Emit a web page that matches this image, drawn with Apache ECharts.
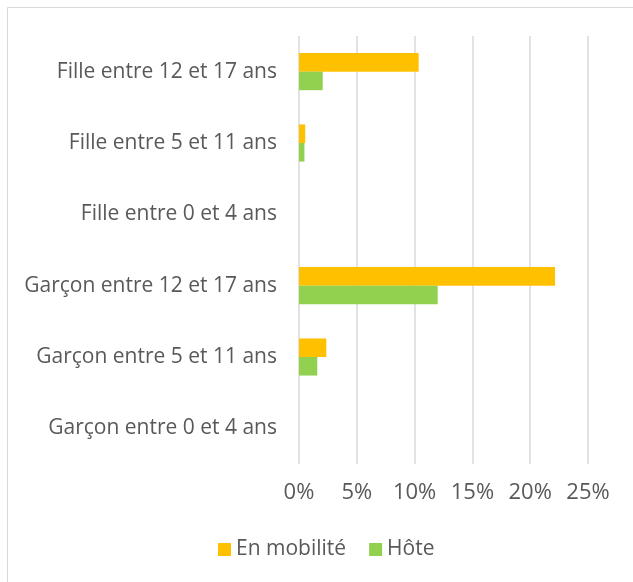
<!DOCTYPE html>
<html>
<head>
<meta charset="utf-8">
<script src="https://cdn.jsdelivr.net/npm/echarts@6/dist/echarts.min.js"></script>
<style>
  html, body { margin: 0; padding: 0; background: #fff; }
  #chart { width: 633px; height: 582px; }
</style>
</head>
<body>
<div id="chart"></div>
<script>
const categories = [
  "Garçon entre 0 et 4 ans",
  "Garçon entre 5 et 11 ans",
  "Garçon entre 12 et 17 ans",
  "Fille entre 0 et 4 ans",
  "Fille entre 5 et 11 ans",
  "Fille entre 12 et 17 ans"
];
const enMobilite = [0, 2.36, 22.15, 0, 0.54, 10.35];
const hote = [0, 1.58, 12.0, 0, 0.47, 2.05];
const seriesNames = ["En mobilité", "Hôte"];

const chart = echarts.init(document.getElementById("chart"));
const font = "Open Sans";

chart.setOption({
  backgroundColor: "#fff",
  animation: false,
  graphic: [{
    type: "rect",
    shape: { x: 7.5, y: 7.5, width: 640, height: 600 },
    style: { fill: "none", stroke: "#d9d9d9", lineWidth: 1 },
    silent: true
  }],
  grid: { left: 299, right: 45, top: 36, bottom: 118 },
  legend: {
    data: seriesNames,
    top: 534,
    left: 213,
    itemWidth: 13,
    itemHeight: 13,
    itemGap: 23,
    icon: "rect",
    textStyle: { color: "#595959", fontSize: 21, fontFamily: font }
  },
  xAxis: {
    type: "value",
    min: 0,
    max: 25,
    interval: 5,
    axisLine: { show: false },
    axisTick: { show: false },
    splitLine: { lineStyle: { color: "#d9d9d9", width: 1.5 } },
    axisLabel: {
      color: "#595959",
      fontSize: 22,
      fontFamily: font,
      margin: 18,
      formatter: (v) => v + "%"
    }
  },
  yAxis: {
    type: "category",
    data: categories,
    axisLine: { show: false },
    axisTick: { show: false },
    axisLabel: {
      color: "#595959",
      fontSize: 21,
      fontFamily: font,
      margin: 22
    }
  },
  series: [
    {
      name: seriesNames[0],
      type: "bar",
      data: enMobilite,
      itemStyle: { color: "#ffc000" },
      barGap: "0%",
      barCategoryGap: "48%"
    },
    {
      name: seriesNames[1],
      type: "bar",
      data: hote,
      itemStyle: { color: "#92d050" }
    }
  ]
});
</script>
</body>
</html>
